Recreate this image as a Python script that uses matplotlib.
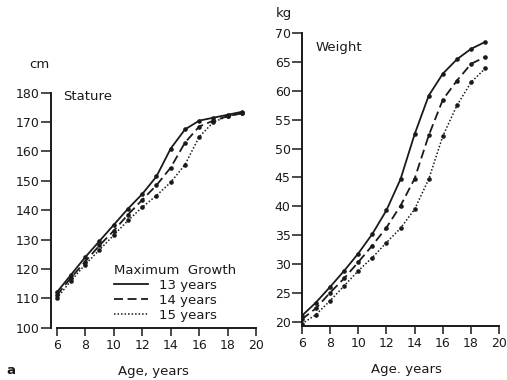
import numpy as np
import matplotlib
matplotlib.use("Agg")
import matplotlib.pyplot as plt

plt.rcParams['font.family'] = ['DejaVu Sans']

ages = [6, 7, 8, 9, 10, 11, 12, 13, 14, 15, 16, 17, 18, 19]

# stature (cm), by age of maximum growth
stature_13 = [112, 118, 124, 129.5, 135, 140.5, 145.5, 151.5, 161, 167.5, 170.5, 171.5, 172.5, 173.5]
stature_14 = [111, 117, 122.5, 128, 133, 138.5, 143.5, 148.5, 154.5, 163, 168.5, 170.5, 172, 173]
stature_15 = [110, 116, 121.5, 126.5, 131.5, 136.5, 141, 145, 149.5, 155.5, 165, 170, 172, 173]

# weight (kg)
weight_13 = [21, 23.3, 26, 28.8, 31.8, 35.2, 39.3, 44.7, 52.5, 59.2, 63, 65.5, 67.3, 68.5]
weight_14 = [20.4, 22.3, 25, 27.5, 30.3, 33.2, 36.3, 40.1, 44.8, 52.3, 58.5, 61.8, 64.7, 65.9]
weight_15 = [19.6, 21.2, 23.6, 26.2, 28.8, 31.1, 33.7, 36.2, 39.5, 44.7, 52.2, 57.5, 61.5, 63.9]

series_labels = ['13 years', '14 years', '15 years']
styles = [dict(linestyle='-', linewidth=1.3),
          dict(linestyle=(0, (5, 2.5)), linewidth=1.3),
          dict(linestyle=(0, (1, 1.3)), linewidth=1.1)]

x_ticks = [6, 8, 10, 12, 14, 16, 18, 20]
stature_ticks = [100, 110, 120, 130, 140, 150, 160, 170, 180]
weight_ticks = [20, 25, 30, 35, 40, 45, 50, 55, 60, 65, 70]

ink = '#1a1a1a'
fs = 9.5

fig = plt.figure(figsize=(5.07, 3.80), dpi=100)
ax1 = fig.add_axes([0.1006, 0.1376, 0.4132, 0.6184])
ax2 = fig.add_axes([0.5951, 0.1429, 0.3953, 0.7695])


def style_axes(ax, yticks, xlim, ylim, ybounds):
    ax.set_xlim(*xlim)
    ax.set_ylim(*ylim)
    ax.set_xticks(x_ticks)
    ax.set_yticks(yticks)
    for side in ['top', 'right']:
        ax.spines[side].set_visible(False)
    for side in ['left', 'bottom']:
        ax.spines[side].set_linewidth(1.4)
        ax.spines[side].set_color(ink)
    ax.spines['bottom'].set_bounds(6, 20)
    ax.spines['left'].set_bounds(*ybounds)
    ax.tick_params(axis='y', direction='out', length=7, width=1.1, pad=1,
                   labelsize=9, colors=ink)
    ax.tick_params(axis='x', direction='out', length=6, width=1.1, pad=2,
                   labelsize=9, colors=ink)
    ax.patch.set_visible(False)


lines = []
for vals, st, lab in zip([stature_13, stature_14, stature_15], styles, series_labels):
    ln, = ax1.plot(ages, vals, color=ink, marker='o', markersize=2.3, label=lab, **st)
    lines.append(ln)
for vals, st in zip([weight_13, weight_14, weight_15], styles):
    ax2.plot(ages, vals, color=ink, marker='o', markersize=2.3, **st)

style_axes(ax1, stature_ticks, (5.6, 20.3), (100, 180), (100, 180))
style_axes(ax2, weight_ticks, (6, 20.2), (19.3, 70), (19.3, 70))

# legend built by hand so the heading sits above the entries
leg = ax1.legend(handles=[matplotlib.lines.Line2D([], [], color=ink, **st) for st in styles],
                 labels=series_labels, loc='upper left', bbox_to_anchor=(0.27, 0.3),
                 frameon=False, fontsize=fs, handlelength=2.6, handletextpad=0.8,
                 labelspacing=0.15, borderpad=0, title='Maximum  Growth',
                 title_fontsize=fs)
leg._legend_box.align = 'left'
leg.get_title().set_color(ink)
for t in leg.get_texts():
    t.set_color(ink)

fig.text(39 / 507, 1 - 65 / 380, 'cm', fontsize=fs, color=ink, ha='center', va='center')
fig.text(284 / 507, 1 - 14 / 380, 'kg', fontsize=fs, color=ink, ha='center', va='center')
fig.text(63 / 507, 1 - 97 / 380, 'Stature', fontsize=fs, color=ink, ha='left', va='center')
fig.text(316 / 507, 1 - 47 / 380, 'Weight', fontsize=fs, color=ink, ha='left', va='center')
fig.text(153 / 507, 1 - 372 / 380, 'Age, years', fontsize=fs, color=ink, ha='center', va='center')
fig.text(406 / 507, 1 - 370 / 380, 'Age. years', fontsize=fs, color=ink, ha='center', va='center')
fig.text(11 / 507, 1 - 370 / 380, 'a', fontsize=fs, color=ink, ha='center', va='center',
         fontweight='bold')

fig.savefig('out.png', dpi=100)
